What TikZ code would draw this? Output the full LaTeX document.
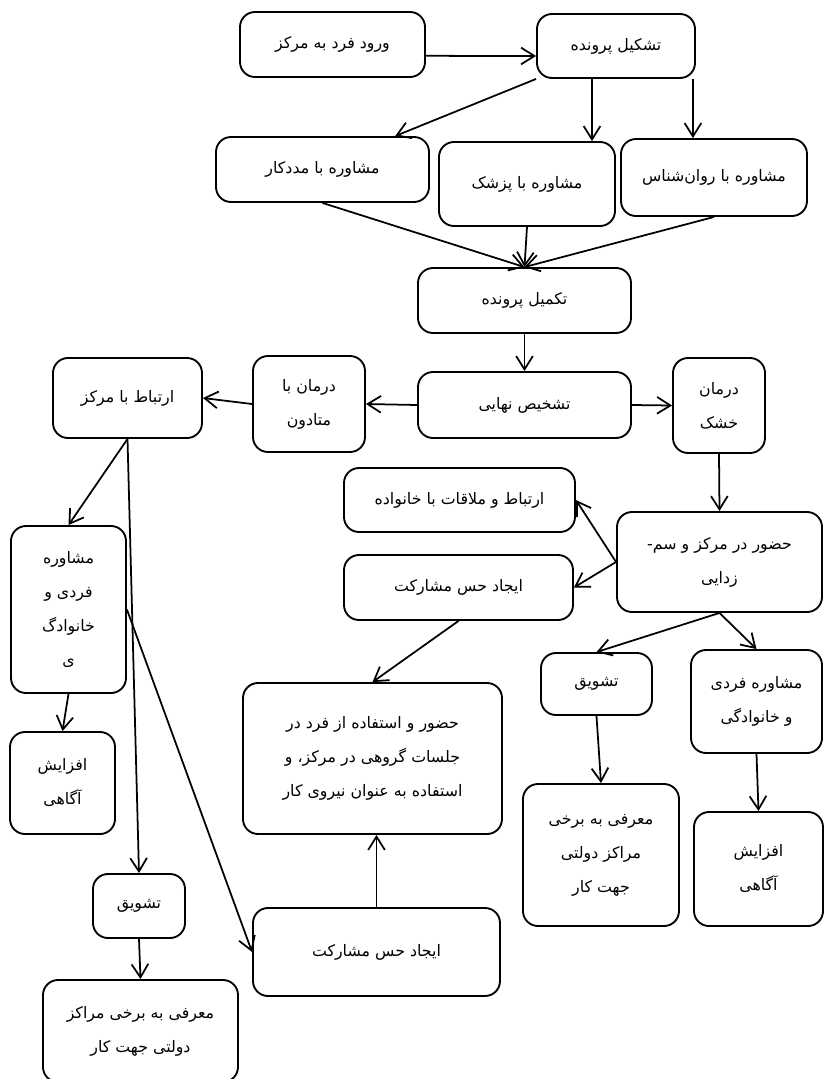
\documentclass[tikz,border=0pt]{standalone}
\usepackage{fontspec}
\newfontfamily\farsi[Script=Arabic]{DejaVu Sans}
\TeXXeTstate=1
\usetikzlibrary{positioning,arrows.meta}
\newcommand{\fa}[1]{\beginR #1\endR}

\begin{document}
\begin{tikzpicture}[x=0.3mm,y=-0.3mm,
        box/.style 2 args={draw,line width=1.6pt,rounded corners=4.5mm,align=center,
            minimum width=#1*0.3mm,minimum height=#2*0.3mm,inner sep=2pt,
            font=\farsi\fontsize{13.5}{29}\selectfont},
        arr/.style={line width=1.5pt,-{Straight Barb[length=4mm,width=5mm,line width=1.5pt]}}]
        \clip (0,0) rectangle (824,1079);
        % top row
        \node[box={185}{65}] (entry) at (332.5,44.5) {\fa{ورود فرد به مرکز}};
        \node[box={158}{64}] (file) at (616,46) {\fa{تشکیل پرونده}};
        \node[box={213}{65}] (social) at (322.5,169.5) {\fa{مشاوره با مددکار}};
        \node[box={176}{84}] (doctor) at (527,184) {\fa{مشاوره با پزشک}};
        \node[box={186}{77}] (psych) at (714,177.5) {\fa{مشاوره با روان‌شناس}};
        \node[box={213}{65}] (complete) at (524.5,300.5) {\fa{تکمیل پرونده}};
        \node[box={213}{66}] (diag) at (524.5,405) {\fa{تشخیص نهایی}};
        \node[box={112}{96}] (methadone) at (309,404) {\fa{درمان با}\\\fa{متادون}};
        \node[box={149}{80}] (contact) at (127.5,398) {\fa{ارتباط با مرکز}};
        \node[box={92}{95}] (dry) at (719,405.5) {\fa{درمان}\\\fa{خشک}};
        % right branch
        \node[box={205}{100}] (detox) at (719.5,562) {\fa{حضور در مرکز و سم-}\\\fa{زدایی}};
        \node[box={231}{64}] (family) at (459.5,500) {\fa{ارتباط و ملاقات با خانواده}};
        \node[box={229}{65}] (share1) at (458.5,587.5) {\fa{ایجاد حس مشارکت}};
        \node[box={259}{151}] (group) at (372.5,758.5) {\fa{حضور و استفاده از فرد در}\\\fa{جلسات گروهی در مرکز، و}\\\fa{استفاده به عنوان نیروی کار}};
        \node[box={247}{88}] (share2) at (376.5,952) {\fa{ایجاد حس مشارکت}};
        \node[box={111}{62}] (motivR) at (596.5,684) {\fa{تشویق}};
        \node[box={131}{103}] (counselR) at (756.5,701.5) {\fa{مشاوره فردی}\\\fa{و خانوادگی}};
        \node[box={156}{142}] (jobR) at (601,855) {\fa{معرفی به برخی}\\\fa{مراکز دولتی}\\\fa{جهت کار}};
        \node[box={129}{114}] (awareR) at (758.5,869) {\fa{افزایش}\\\fa{آگاهی}};
        % left branch
        \node[box={115}{167}] (counselL) at (68.5,609.5) {\fa{مشاوره}\\\fa{فردی و}\\\fa{خانوادگ}\\\fa{ی}};
        \node[box={105}{102}] (awareL) at (62.5,783) {\fa{افزایش}\\\fa{آگاهی}};
        \node[box={92}{64}] (motivL) at (139,906) {\fa{تشویق}};
        \node[box={195}{102}] (jobL) at (140.5,1031) {\fa{معرفی به برخی مراکز}\\\fa{دولتی جهت کار}};
        % arrows
        \draw[arr] ([yshift=-3.4mm]entry.east) -- ([yshift=-3mm]file.west);
        \draw[arr] (file.south west) -- ([xshift=21.8mm]social.north);
        \draw[arr] ([xshift=-7.2mm]file.south) -- ([xshift=-7.2mm]file.south |- doctor.north);
        \draw[arr] ([xshift=-0.9mm]file.south east) -- ([xshift=-0.9mm]file.south east |- psych.north);
        \foreach \a/\b in {social/complete,doctor/complete,psych/complete,complete/diag,dry/detox,
                detox/motivR,detox/counselR,motivR/jobR,counselR/awareR,share1/group,
                contact/counselL,contact/motivL,counselL/awareL,motivL/jobL} {
            \draw[arr] (\a.south) -- (\b.north);
        }
        \draw[arr] (diag.west) -- (methadone.east);
        \draw[arr] (methadone.west) -- (contact.east);
        \draw[arr] (diag.east) -- (dry.west);
        \draw[arr] (detox.west) -- (family.east);
        \draw[arr] (detox.west) -- (share1.east);
        \draw[arr] (counselL.east) -- (share2.west);
        \draw[arr] (share2.north) -- (share2.north |- group.south);
    \end{tikzpicture}
\end{document}
